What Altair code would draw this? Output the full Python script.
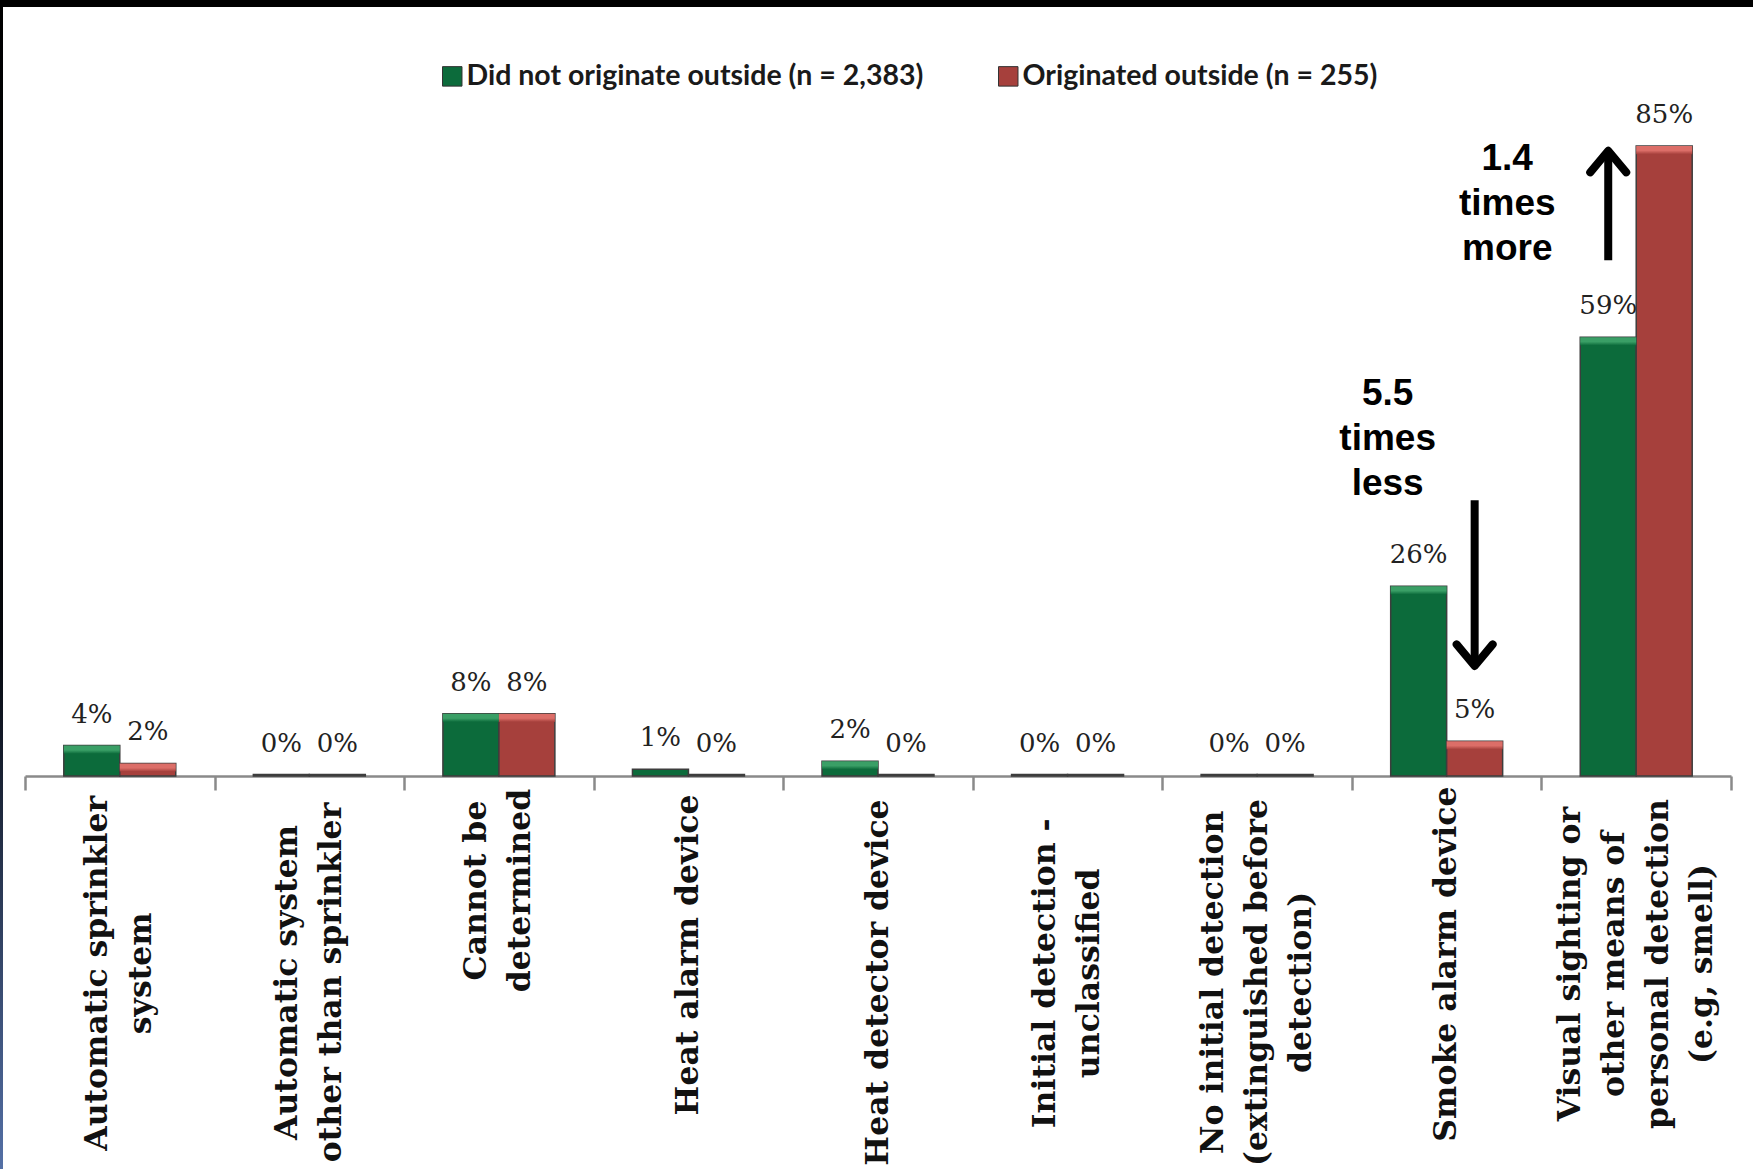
import altair as alt
import pandas as pd

# ---- data ----
categories = [
    "Automatic sprinkler|system",
    "Automatic system|other than sprinkler",
    "Cannot be|determined",
    "Heat alarm device",
    "Heat detector device",
    "Initial detection -|unclassified",
    "No initial detection|(extinguished before|detection)",
    "Smoke alarm device",
    "Visual sighting or|other means of|personal detection|(e.g, smell)",
]
series = ["Did not originate outside (n = 2,383)", "Originated outside (n = 255)"]
did_not_originate = [4.1, 0.2, 8.4, 0.9, 2.0, 0.2, 0.2, 25.6, 59.2]
originated_outside = [1.7, 0.2, 8.4, 0.2, 0.2, 0.2, 0.2, 4.7, 85.0]
label_not = ["4%", "0%", "8%", "1%", "2%", "0%", "0%", "26%", "59%"]
label_out = ["2%", "0%", "8%", "0%", "0%", "0%", "0%", "5%", "85%"]
colors = ["#0c6b3b", "#a6403c"]
highlight_colors = ["#3a9f66", "#dc6e68"]

# annotations
ann_up_text = ["1.4", "times", "more"]
ann_down_text = ["5.5", "times", "less"]
ann_up_y = 83.3
ann_down_y = 51.6
arrow_cat = [categories[8], categories[7]]
arrow_series = [series[0], series[1]]
arrow_from = [69.6, 37.2]
arrow_to = [84.2, 15.1]
head_pos = [82.9, 16.3]

rows = []
for c, v, l in zip(categories, did_not_originate, label_not):
    rows.append({"category": c, "series": series[0], "value": v, "label": l})
for c, v, l in zip(categories, originated_outside, label_out):
    rows.append({"category": c, "series": series[1], "value": v, "label": l})
df = pd.DataFrame(rows)

arrows = pd.DataFrame({"category": arrow_cat, "series": arrow_series,
                       "y1": arrow_from, "y2": arrow_to, "head": head_pos})
up_df = pd.DataFrame({"category": [categories[8]], "series": [series[0]],
                      "y": [ann_up_y], "text": [ann_up_text]})
down_df = pd.DataFrame({"category": [categories[7]], "series": [series[0]],
                        "y": [ann_down_y], "text": [ann_down_text]})

W, H = 1706, 776
LH = 44  # axis label line height

n_lines = "length(split(datum.value, '|'))"
label_offset = {
    "condition": [
        {"test": f"{n_lines} == 4", "value": -1.5 * LH},
        {"test": f"{n_lines} == 3", "value": -1.0 * LH},
        {"test": f"{n_lines} == 2", "value": -0.5 * LH},
    ],
    "value": 0,
}
parts = "split(datum.value, '|')"
max_chars = (f"max(length({parts}[0]), length({parts}[1] || ''), "
             f"length({parts}[2] || ''), length({parts}[3] || ''))")
label_padding = alt.ExprRef(f"8 + 9.2 * {max_chars}")

x_enc = alt.X(
    "category:N", sort=categories,
    scale=alt.Scale(domain=categories, paddingInner=0, paddingOuter=0),
    axis=alt.Axis(
        title=None, labelExpr="split(datum.label, '|')", labelAngle=270,
        labelAlign="center", labelBaseline="middle", labelFont="DejaVu Serif",
        labelFontWeight="bold", labelFontSize=31.5, labelLineHeight=LH,
        labelColor="#111111", labelPadding=label_padding, labelLimit=0,
        labelOverlap=False, labelOffset=label_offset,
        tickBand="extent", tickSize=14, tickColor="#8a8a8a", tickWidth=2.5,
        domainColor="#8a8a8a", domainWidth=2.5,
    ),
)
xo_enc = alt.XOffset("series:N", sort=series,
                     scale=alt.Scale(domain=series, paddingInner=0, paddingOuter=0.693))
y_scale = alt.Scale(domain=[0, 104.7], nice=False)

bars = alt.Chart(df).mark_bar(stroke="#3d3d3d", strokeWidth=1.5).encode(
    x=x_enc,
    xOffset=xo_enc,
    y=alt.Y("value:Q", scale=y_scale, axis=None),
    color=alt.Color(
        "series:N", sort=series,
        scale=alt.Scale(domain=series, range=colors),
        legend=alt.Legend(
            title=None, orient="none", legendX=413, legendY=62,
            direction="horizontal", symbolType="square", symbolSize=380,
            symbolStrokeColor="#333333", symbolStrokeWidth=1,
            labelFont="Lato", labelFontSize=28.5, labelFontWeight="bold",
            labelColor="#1a1a1a", labelOffset=0, labelLimit=0,
            columnPadding=70,
        ),
    ),
)


def highlight(idx):
    return alt.Chart(df).transform_filter(
        (alt.datum.series == series[idx]) & (alt.datum.value >= 1.5)
    ).transform_calculate(
        top2="datum.value - 1.1"
    ).mark_bar(
        color=alt.Gradient(
            gradient="linear", x1=0, y1=0, x2=0, y2=1,
            stops=[alt.GradientStop(offset=0, color=highlight_colors[idx]),
                   alt.GradientStop(offset=0.55, color=highlight_colors[idx]),
                   alt.GradientStop(offset=1, color=colors[idx])],
        ),
        strokeWidth=0,
    ).encode(
        x=alt.X("category:N", sort=categories),
        xOffset=alt.XOffset("series:N", sort=series),
        y=alt.Y("value:Q", scale=y_scale),
        y2="top2:Q",
    )


values = alt.Chart(df).mark_text(
    font="DejaVu Serif", fontSize=26, color="#222222", baseline="middle", dy=-31
).encode(
    x=alt.X("category:N", sort=categories),
    xOffset=alt.XOffset("series:N", sort=series),
    y=alt.Y("value:Q", scale=y_scale),
    text="label:N",
)

shafts = alt.Chart(arrows).mark_rule(color="black", strokeWidth=8, strokeCap="butt").encode(
    x=alt.X("category:N", sort=categories),
    xOffset=alt.XOffset("series:N", sort=series),
    y=alt.Y("y1:Q", scale=y_scale),
    y2="y2:Q",
)

head_up = alt.Chart(arrows.iloc[[0]]).mark_point(
    shape="M-1,0.6L0,-0.6L1,0.6", filled=False, color="black", strokeWidth=8,
    size=1296, opacity=1, strokeJoin="round", strokeCap="round",
).encode(
    x=alt.X("category:N", sort=categories),
    xOffset=alt.XOffset("series:N", sort=series),
    y=alt.Y("head:Q", scale=y_scale),
)
head_down = alt.Chart(arrows.iloc[[1]]).mark_point(
    shape="M-1,-0.6L0,0.6L1,-0.6", filled=False, color="black", strokeWidth=8,
    size=1296, opacity=1, strokeJoin="round", strokeCap="round",
).encode(
    x=alt.X("category:N", sort=categories),
    xOffset=alt.XOffset("series:N", sort=series),
    y=alt.Y("head:Q", scale=y_scale),
)

txt_up = alt.Chart(up_df).mark_text(
    font="Liberation Sans", fontWeight="bold", fontSize=37, lineHeight=45,
    color="black", baseline="middle", align="center", dx=-101,
).encode(
    x=alt.X("category:N", sort=categories),
    xOffset=alt.XOffset("series:N", sort=series),
    y=alt.Y("y:Q", scale=y_scale),
    text="text",
)
txt_down = alt.Chart(down_df).mark_text(
    font="Liberation Sans", fontWeight="bold", fontSize=37, lineHeight=45,
    color="black", baseline="middle", align="center", dx=-31,
).encode(
    x=alt.X("category:N", sort=categories),
    xOffset=alt.XOffset("series:N", sort=series),
    y=alt.Y("y:Q", scale=y_scale),
    text="text",
)

# decorative frame (slide border)
top_band = alt.Chart(df).mark_rule(color="black", strokeWidth=7).encode(
    x=alt.value(-25), x2=alt.value(W + 22), y=alt.value(3.5)
)
left_band = alt.Chart(df).mark_rect(
    color=alt.Gradient(
        gradient="linear", x1=0, y1=0, x2=0, y2=1,
        stops=[alt.GradientStop(offset=0, color="#000000"),
               alt.GradientStop(offset=0.55, color="#05070c"),
               alt.GradientStop(offset=1, color="#5470a6")],
    )
).encode(x=alt.value(-25), x2=alt.value(-22), y=alt.value(0), y2=alt.value(1169))

chart = alt.layer(
    bars, highlight(0), highlight(1), values, shafts, head_up, head_down,
    txt_up, txt_down, top_band, left_band
).properties(
    width=W, height=H,
    autosize=alt.AutoSizeParams(type="none"),
    padding={"left": 25, "top": 0, "right": 22, "bottom": 393},
    background="white",
).configure_view(stroke=None)

chart.save("out.html", embed_options={"renderer": "svg", "actions": False})
